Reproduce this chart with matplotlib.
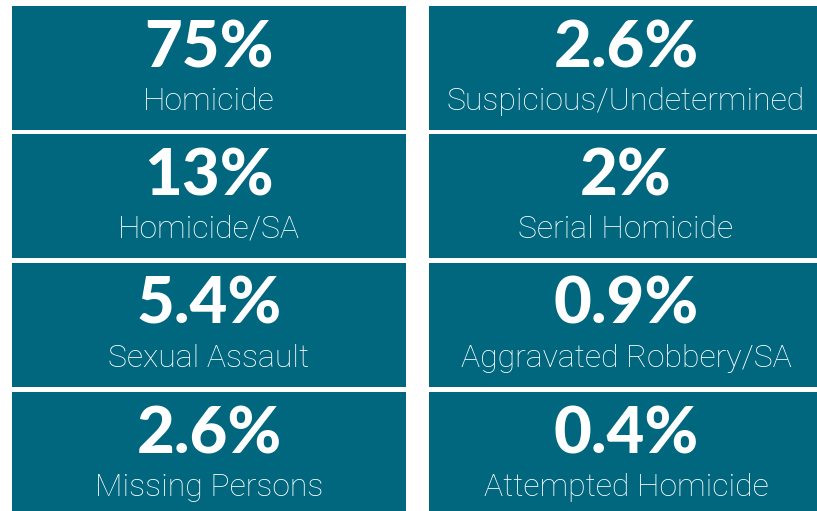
import matplotlib.pyplot as plt
from matplotlib.patches import Rectangle

# Shares by case category
left_values = ['75%', '13%', '5.4%', '2.6%']
left_labels = ['Homicide', 'Homicide/SA', 'Sexual Assault', 'Missing Persons']
right_values = ['2.6%', '2%', '0.9%', '0.4%']
right_labels = ['Suspicious/Undetermined', 'Serial Homicide',
                'Aggravated Robbery/SA', 'Attempted Homicide']

teal = '#00677F'
W, H = 817, 511

fig = plt.figure(figsize=(W / 100, H / 100), dpi=100)
ax = fig.add_axes([0, 0, 1, 1])
ax.set_xlim(0, W)
ax.set_ylim(H, 0)
ax.axis('off')

row_tops = [6, 134, 263, 392]
row_h = 124
columns = [(12, 394, left_values, left_labels),
           (429, 394, right_values, right_labels)]

for x0, w, values, labels in columns:
    for top, val, lab in zip(row_tops, values, labels):
        ax.add_patch(Rectangle((x0, top), w, row_h, facecolor=teal,
                               edgecolor='none'))
        cx = x0 + w / 2
        ax.text(cx, top + 61, val, ha='center', va='baseline',
                color='white', fontsize=47, fontweight='black',
                family='Lato')
        ax.text(cx, top + 104, lab, ha='center', va='baseline',
                color='white', fontsize=23, fontweight='light',
                family='Roboto')

fig.savefig('out.png', dpi=100)
